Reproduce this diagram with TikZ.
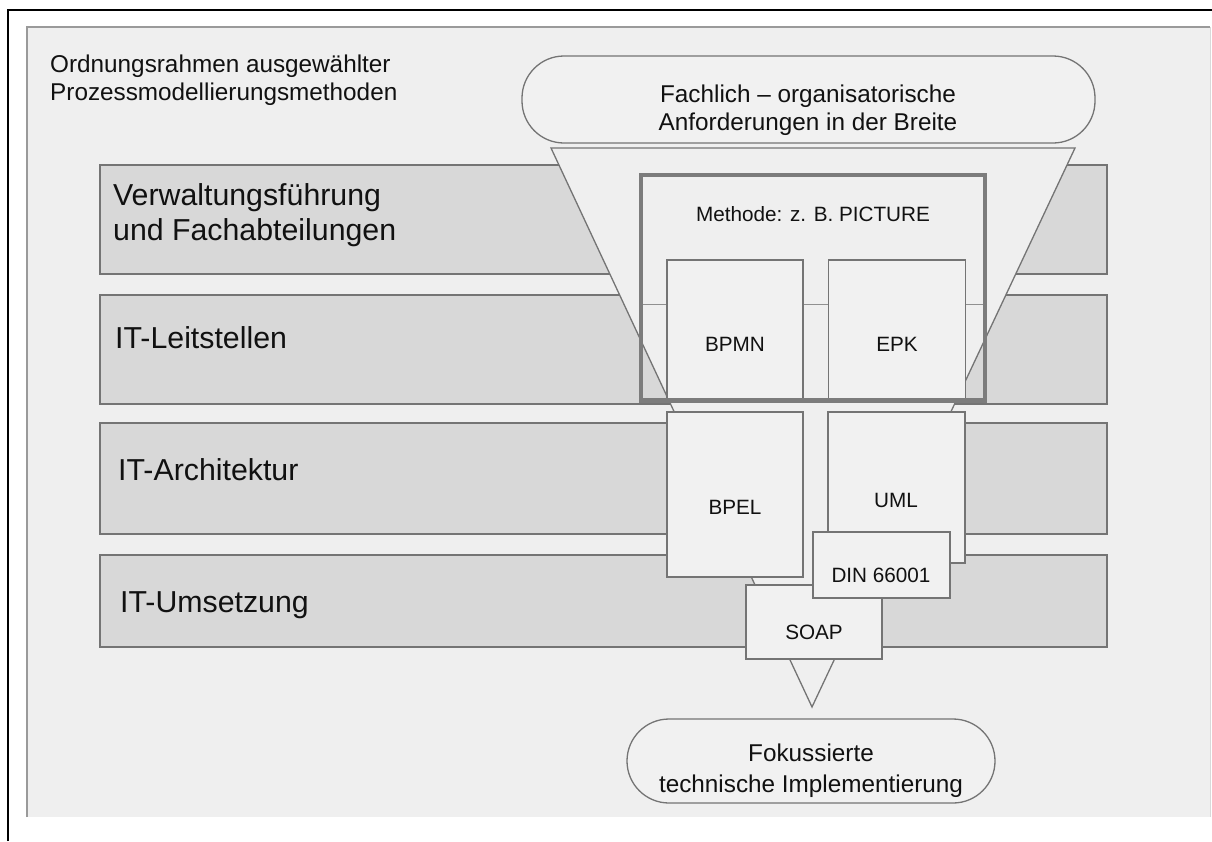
\documentclass[tikz,border=0pt]{standalone}
\usepackage{fontspec}
\setmainfont{Liberation Sans}
\definecolor{panelfill}{HTML}{EFEFEF}
\definecolor{paneledge}{HTML}{9A9A9A}
\definecolor{bandfill}{HTML}{D8D8D8}
\definecolor{edgegrey}{HTML}{747474}
\definecolor{boxfill}{HTML}{F1F1F1}
\definecolor{framegrey}{HTML}{7C7C7C}
\definecolor{ink}{HTML}{111111}
\begin{document}
\begin{tikzpicture}[x=1pt,y=-1pt,
  band/.style={fill=bandfill, draw=edgegrey, line width=1.4pt},
  lightshape/.style={fill=boxfill, draw=edgegrey, line width=1.3pt},
  box/.style={lightshape, rectangle, inner sep=0pt},
  pill/.style={lightshape, rectangle, rounded corners=42pt, inner sep=0pt},
  bigtext/.style={text=ink, inner sep=0pt, font=\fontsize{30.3pt}{35pt}\selectfont},
  midtext/.style={text=ink, inner sep=0pt, font=\fontsize{24.3pt}{28pt}\selectfont},
  smalltext/.style={text=ink, inner sep=0pt, font=\fontsize{20.7pt}{24pt}\selectfont}]
\useasboundingbox (0,0) rectangle (1212,841);
\fill[white] (0,0) rectangle (1212,841);

% outer frame (top and left edges)
\draw[black, line width=2.5pt] (7.8,841) -- (7.8,10) -- (1212,10);

% background panel
\fill[panelfill] (27,27) rectangle (1210,817);
\draw[paneledge, line width=1.3pt] (27,817) -- (27,27) -- (1210,27);
\draw[white!85!black, line width=0.8pt] (1210,27) -- (1210,817);

\node[midtext, anchor=north west, align=left] (title) at (50,54.5)
  {Ordnungsrahmen ausgewählter\\Prozessmodellierungsmethoden};

% organisational layers
\draw[band] (100,165) rectangle (1107,274);
\draw[band] (100,295) rectangle (1107,404);
\draw[band] (100,423) rectangle (1107,534);
\draw[band] (100,555) rectangle (1107,647);
\node[bigtext, anchor=north west, align=left] (l1) at (113,183)
  {Verwaltungsführung\\und Fachabteilungen};
\node[bigtext, anchor=base west] (l2) at (115,348) {IT-Leitstellen};
\node[bigtext, anchor=base west] (l3) at (118,480) {IT-Architektur};
\node[bigtext, anchor=base west] (l4) at (120,612) {IT-Umsetzung};

% requirement and implementation terminals
\node[pill, minimum width=573pt, minimum height=87pt] (top) at (808.5,99.5) {};
\node[midtext, align=center] (toptext) at (808,110)
  {Fachlich -- organisatorische\\Anforderungen in der Breite};
\node[pill, minimum width=368pt, minimum height=84pt] (bottom) at (811,761) {};
\node[midtext, align=center, font=\fontsize{24.3pt}{31pt}\selectfont] (bottomtext) at (811,771)
  {Fokussierte\\technische Implementierung};

% funnel from broad requirements to focused implementation
\coordinate (fl) at (551,148);
\coordinate (fr) at (1075,148);
\coordinate (fa) at (812,707);
\draw[lightshape, fill=panelfill] (fl) -- (fr) -- (fa) -- cycle;

% method frame
\draw[edgegrey!80, line width=1.2pt] (641,304.5) -- (985,304.5);
\node[smalltext] (method) at (813,214) {Methode: z. B. PICTURE};

% notations
\node[box, minimum width=136pt, minimum height=141pt] (bpmn) at (735,330.5) {};
\node[smalltext] (bpmntext) at (735,344) {BPMN};
\node[box, minimum width=137.5pt, minimum height=141pt] (epk) at (897,330.5) {};
\node[smalltext] (epktext) at (897,344) {EPK};
\draw[framegrey, line width=4.5pt] (641,175) rectangle (985,400.5);

\node[box, minimum width=136pt, minimum height=165pt] (bpel) at (735,494.5) {};
\node[smalltext] (bpeltext) at (735,507) {BPEL};
\node[box, minimum width=137pt, minimum height=151pt] (uml) at (896.5,487.5) {};
\node[smalltext] (umltext) at (896,500) {UML};
\node[box, minimum width=136pt, minimum height=74pt] (soap) at (814,622) {};
\node[smalltext] (soaptext) at (814,632) {SOAP};
\node[box, minimum width=137pt, minimum height=66pt] (din) at (881.5,565) {};
\node[smalltext] (dintext) at (881,575) {DIN 66001};
\end{tikzpicture}
\end{document}
